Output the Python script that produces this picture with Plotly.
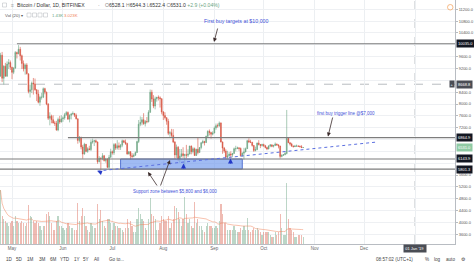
import plotly.graph_objects as go
import pandas as pd

# ---------------- data (daily BTC/USD, Bitfinex) ----------------
dates = pd.date_range("2018-04-24", "2018-10-25", freq="D")

opens = [
    8940, 9650, 8870, 9280, 8940, 9350, 9400,
    9240, 9070, 9220, 9740, 9700, 9850, 9630, 9370, 9190, 9320, 9020, 8420, 8480, 8710, 8680, 8480,
    8340, 8060, 8230, 8230, 8520, 8400, 8000, 7520, 7590, 7470, 7360, 7350, 7120, 7480, 7390,
    7500, 7530, 7640, 7710, 7490, 7620, 7660, 7680, 7620, 7500, 6770, 6880, 6550, 6310, 6640,
    6400, 6490, 6460, 6710, 6740, 6760, 6720, 6050, 6170, 6150, 6250, 6090, 6140, 5860, 6200,
    6390, 6350, 6630, 6510, 6590, 6540, 6610, 6760, 6710, 6670, 6310, 6390, 6250, 6230, 6270,
    6360, 6730, 7320, 7380, 7470, 7330, 7410, 7400, 7720, 8400, 8170, 7930, 8180, 8230, 8210, 8180,
    7730, 7610, 7540, 7420, 7010, 7030, 6940, 6720, 6280, 6540, 6150, 6240, 6320, 6260, 6290,
    6270, 6310, 6580, 6390, 6490, 6260, 6470, 6360, 6530, 6690, 6730, 6700, 6910, 7080, 7040, 6980,
    7020, 7190, 7270, 7260, 7360, 6720, 6510, 6410, 6200, 6250, 6310, 6280, 6330, 6490, 6490,
    6520, 6500, 6250, 6340, 6380, 6490, 6760, 6720, 6710, 6600, 6430, 6460, 6680, 6630, 6600,
    6630, 6590, 6530, 6480, 6580, 6620, 6570, 6600, 6650, 6620, 6580, 6230, 6270, 6290, 6330,
    6840, 6690, 6650, 6580, 6560, 6580, 6580, 6570, 6560, 6528.1,
]
highs = [
    9730, 9760, 9310, 9390, 9440, 9520, 9470,
    9260, 9240, 9790, 9770, 9990, 9930, 9670, 9470, 9370, 9380, 9030, 8650, 8760, 8880, 8860,
    8500, 8480, 8280, 8380, 8560, 8550, 8420, 8030, 7720, 7640, 7620, 7430, 7430, 7540, 7600, 7620,
    7580, 7700, 7760, 7750, 7650, 7700, 7750, 7700, 7680, 7510, 6920, 6890, 6620, 6690,
    6650, 6540, 6590, 6800, 6830, 6790, 6800, 6730, 6240, 6200, 6340, 6280, 6180, 6170, 6280, 6490,
    6430, 6680, 6680, 6780, 6700, 6650, 6800, 6790, 6800, 6690, 6400, 6400, 6340, 6330,
    6400, 6760, 7460, 7580, 7560, 7690, 7460, 7560, 7790, 8490, 8480, 8300, 8250, 8240, 8290, 8260, 8190,
    7760, 7720, 7550, 7500, 7090, 7160, 7150, 6740, 6630, 6580, 6480, 6480, 6540, 6320,
    6620, 6470, 6590, 6600, 6540, 6530, 6490, 6880, 6540, 6720, 6790, 6760, 6930, 7110, 7140, 7060, 7080,
    7240, 7340, 7340, 7410, 7380, 6730, 6550, 6470, 6420, 6380, 6400, 6350, 6530, 6590,
    6560, 6530, 6530, 6370, 6520, 6530, 6790, 6840, 6790, 6720, 6610, 6560, 6700, 6780, 6650, 6660,
    6660, 6620, 6550, 6610, 6640, 6630, 6620, 6700, 6660, 6630, 6590, 6300, 6310, 6380,
    7800, 6880, 6720, 6690, 6600, 6620, 6630, 6610, 6600, 6610, 6544.3,
]
lows = [
    8930, 8740, 8660, 8930, 8920, 9180, 9150,
    8840, 9010, 9180, 9540, 9680, 9470, 9180, 9100, 8990, 9000, 8360, 8220, 8370, 8320, 8450,
    8100, 8020, 7940, 8150, 8200, 8330, 7960, 7460, 7280, 7350, 7340, 7260, 7100, 7080, 7330, 7380,
    7400, 7470, 7600, 7460, 7380, 7480, 7640, 7560, 7480, 6660, 6700, 6470, 6150, 6290,
    6370, 6350, 6440, 6410, 6660, 6580, 6680, 5980, 6030, 5760, 6100, 6060, 6020, 5840, 5820, 6190,
    6290, 6280, 6450, 6460, 6450, 6450, 6540, 6680, 6620, 6290, 6300, 6110, 6160, 6200,
    6250, 6350, 6680, 7250, 7280, 7300, 7240, 7350, 7380, 7700, 8070, 7860, 7820, 8080, 8120, 7880, 7650,
    7460, 7480, 7300, 6950, 6890, 6860, 6680, 6150, 6180, 6080, 6020, 6200, 6180, 5880,
    6160, 6210, 6300, 6300, 6330, 6250, 6250, 6300, 6360, 6470, 6660, 6600, 6680, 6870, 6940, 6830, 6940,
    7010, 7130, 7200, 7230, 6700, 6320, 6350, 6150, 6150, 6230, 6180, 6200, 6320, 6400,
    6480, 6420, 6230, 6230, 6120, 6370, 6480, 6680, 6680, 6560, 6380, 6400, 6440, 6600, 6510, 6560,
    6550, 6500, 6440, 6470, 6540, 6540, 6530, 6580, 6590, 6500, 6160, 6200, 6250, 6270,
    6300, 6690, 6600, 6550, 6530, 6550, 6560, 6550, 6530, 6540, 6522.4,
]
closes = [
    9650, 8870, 9280, 8940, 9350, 9400, 9240,
    9070, 9220, 9740, 9700, 9850, 9630, 9370, 9190, 9320, 9020, 8420, 8480, 8710, 8680, 8480,
    8340, 8060, 8230, 8230, 8520, 8400, 8000, 7520, 7590, 7470, 7360, 7350, 7120, 7480, 7390, 7500,
    7530, 7640, 7710, 7490, 7620, 7660, 7680, 7620, 7500, 6770, 6880, 6550, 6310, 6640,
    6400, 6490, 6460, 6710, 6740, 6760, 6720, 6050, 6170, 6150, 6250, 6090, 6140, 5860, 6200, 6390,
    6350, 6630, 6510, 6590, 6540, 6610, 6760, 6710, 6670, 6310, 6390, 6250, 6230, 6270,
    6360, 6730, 7320, 7380, 7470, 7330, 7410, 7400, 7720, 8400, 8170, 7930, 8180, 8230, 8210, 8180, 7730,
    7610, 7540, 7420, 7010, 7030, 6940, 6720, 6280, 6540, 6150, 6240, 6320, 6260, 6290,
    6270, 6310, 6580, 6390, 6490, 6260, 6470, 6360, 6530, 6690, 6730, 6700, 6910, 7080, 7040, 6980, 7020,
    7190, 7270, 7260, 7360, 6720, 6510, 6410, 6200, 6250, 6310, 6280, 6330, 6490, 6490,
    6520, 6500, 6250, 6340, 6380, 6490, 6760, 6720, 6710, 6600, 6430, 6460, 6680, 6630, 6600, 6630,
    6590, 6530, 6480, 6580, 6620, 6570, 6600, 6650, 6620, 6580, 6230, 6270, 6290, 6330,
    6840, 6690, 6650, 6580, 6560, 6580, 6580, 6570, 6560, 6528.1, 6531.0,
]
volumes_k = [
    11.7, 6.0, 5.5, 5.0, 4.5, 4.0, 4.5,
    5.0, 4.0, 6.0, 5.0, 4.5, 4.5, 5.0, 4.5, 4.0, 4.5, 8.5, 6.0, 5.9, 5.0, 4.5, 5.0,
    4.5, 4.0, 3.0, 4.0, 4.0, 6.5, 7.0, 6.0, 4.5, 3.0, 3.0, 5.0, 6.0, 4.0, 4.0,
    3.5, 3.0, 3.5, 4.5, 4.0, 3.5, 3.5, 3.0, 3.0, 8.9, 5.0, 6.0, 7.8, 6.0, 4.0,
    3.0, 2.5, 4.5, 4.0, 3.5, 3.5, 8.7, 5.5, 7.4, 5.0, 4.0, 3.5, 5.5, 5.5, 4.5,
    3.0, 4.5, 4.0, 4.0, 3.5, 3.5, 3.0, 2.5, 3.5, 5.5, 3.5, 5.0, 4.0, 2.5, 2.5,
    5.5, 7.8, 6.5, 5.5, 5.0, 3.5, 3.0, 5.5, 10.0, 6.5, 6.0, 5.5, 3.0, 3.0, 4.5, 6.0,
    5.5, 5.0, 5.0, 6.0, 3.5, 4.5, 5.5, 8.3, 7.8, 7.0, 5.5, 4.0, 5.5, 10.2, 6.5,
    4.5, 5.5, 4.0, 3.5, 9.1, 4.5, 5.5, 4.0, 4.0, 3.0, 2.5, 4.0, 4.5, 4.0, 4.0, 3.5,
    3.5, 4.0, 3.5, 5.0, 8.7, 6.5, 4.5, 4.5, 3.0, 3.0, 3.0, 3.0, 4.0, 3.0, 2.5,
    2.5, 3.5, 3.0, 4.0, 3.0, 5.7, 3.0, 2.5, 3.0, 3.5, 3.0, 3.5, 3.0, 2.5, 2.0,
    2.5, 2.5, 2.5, 2.5, 2.0, 1.5, 1.5, 2.5, 2.0, 2.5, 6.5, 3.5, 2.0, 2.0,
    13.3, 5.5, 3.5, 3.0, 2.5, 1.5, 1.5, 2.0, 2.0, 2.0, 1.43,
]

# axis ticks shown (ticks hidden behind the price labels are left out, as in the picture)
price_ticks = [3600, 4000, 4400, 4800, 5200, 5600, 7200, 7600, 8000, 8400, 9200, 9600, 10400, 10800, 11200]
month_ticks = ["2018-05-01", "2018-06-01", "2018-07-01", "2018-08-01", "2018-09-01", "2018-10-01",
               "2018-11-01", "2018-12-01", "2019-01-01"]
month_labels = ["May", "Jun", "Jul", "Aug", "Sep", "Oct", "Nov", "Dec", ""]

# drawn levels / zones (price values shown on the axis)
level_values = [10035.0, 6864.9, 6143.9, 5801.3]
level_starts = ["2018-05-04", "2018-06-04", "2018-04-20", "2018-04-20"]
zone_dates = ["2018-07-06", "2018-09-18"]
zone_prices = [5801.3, 6143.9]
trend_dates = ["2018-06-22", "2018-12-09"]
trend_prices = [5737, 6717]
cross_date, cross_price = "2019-01-01", 8668.8
last_price = 6531.0

# ---------------- geometry helpers ----------------
W, H = 474, 266
ML, MR, MT, MB = 0, 19, 0, 22
PW, PH = W - ML - MR, H - MT - MB


def px(x):
    return (x - ML) / PW


def py(y):
    return 1 - (y - MT) / PH


X_RANGE = ["2018-04-23 17:00", "2019-01-25 07:00"]
Y_RANGE = [3271, 11514]

UP, DN = "#6ba583", "#d75442"
UP_V, DN_V = "rgba(107,165,131,0.45)", "rgba(215,84,66,0.40)"
BLUE_TXT = "#3f51d8"
FONT = "Liberation Sans, Arial, sans-serif"
GRID = "#eef0f3"

vol_colors = [UP_V if c >= o else DN_V for o, c in zip(opens, closes)]
vol_ma = pd.Series(volumes_k).rolling(20, min_periods=1).mean()

fig = go.Figure()
fig.add_trace(go.Bar(x=dates, y=volumes_k, marker_color=vol_colors, marker_line_width=0,
                     width=0.72 * 86400000, yaxis="y", hoverinfo="skip", showlegend=False))
fig.add_trace(go.Scatter(x=dates, y=vol_ma, mode="lines", line=dict(color="rgba(240,130,90,0.7)", width=0.7),
                         yaxis="y", hoverinfo="skip", showlegend=False))
fig.add_trace(go.Candlestick(
    x=dates, open=opens, high=highs, low=lows, close=closes, yaxis="y2",
    increasing=dict(line=dict(color=UP, width=0.6), fillcolor=UP),
    decreasing=dict(line=dict(color=DN, width=0.6), fillcolor=DN),
    whiskerwidth=0, hoverinfo="skip", showlegend=False))

shapes = []
# crosshair
shapes.append(dict(type="line", xref="x", yref="paper", x0=cross_date, x1=cross_date, y0=0, y1=1,
                   line=dict(color="#9aa0a6", width=0.7, dash="dash"), layer="below"))
shapes.append(dict(type="line", xref="paper", yref="y2", x0=0, x1=1, y0=cross_price, y1=cross_price,
                   line=dict(color="#9aa0a6", width=0.7, dash="dash"), layer="below"))
# support zone rectangle
shapes.append(dict(type="rect", xref="x", yref="y2", x0=zone_dates[0], x1=zone_dates[1],
                   y0=zone_prices[0], y1=zone_prices[1], fillcolor="rgba(115,155,238,0.68)",
                   line=dict(color="#3a5cc8", width=0.8)))
# horizontal levels
for v, s in zip(level_values, level_starts):
    shapes.append(dict(type="line", xref="x", yref="y2", x0=s, x1=X_RANGE[1], y0=v, y1=v,
                       line=dict(color="#7d7d7d", width=1.1)))
# dotted trend line
shapes.append(dict(type="line", xref="x", yref="y2", x0=trend_dates[0], x1=trend_dates[1],
                   y0=trend_prices[0], y1=trend_prices[1], line=dict(color="#5b6fe0", width=1.0, dash="dot")))
# orange alert icon
shapes.append(dict(type="circle", xref="paper", yref="paper", x0=px(447.5), x1=px(453), y0=py(4.5), y1=py(10),
                   line=dict(color="#f4a868", width=0.8)))
# small header icons
for x0 in [27, 32.5, 38, 43.5]:
    shapes.append(dict(type="rect", xref="paper", yref="paper", x0=px(x0), x1=px(x0 + 4), y0=py(13), y1=py(17),
                       line=dict(color="#b0b4ba", width=0.5)))
shapes.append(dict(type="rect", xref="paper", yref="paper", x0=px(2.5), x1=px(6.5), y0=py(3), y1=py(7),
                   line=dict(color="#b0b4ba", width=0.5)))

ann = []


def text(x, y, t, size=5, color="#333", anchor="left", bg=None, yref="paper", xref="paper", pad=0):
    d = dict(x=x, y=y, xref=xref, yref=yref, text=t, showarrow=False, xanchor=anchor, yanchor="middle",
             font=dict(size=size, color=color, family=FONT))
    if bg:
        d.update(bgcolor=bg, borderpad=pad)
    ann.append(d)


# header
text(px(9), py(5), "\u2261", size=5, color="#9a9ea4")
text(px(15), py(5), "Bitcoin / Dollar, 1D, BITFINEX", size=5.1, color="#333")
text(px(96), py(5), "\u00b7", size=5, color="#666")
g = '<span style="color:#888">'
text(px(103), py(5), f"{g}O</span>6528.1 {g}H</span>6544.3 {g}L</span>6522.4 {g}C</span>6531.0 "
                     f"<span style='color:{UP}'>+2.9 (+0.04%)</span>", size=5.1, color="#333")
text(px(3), py(15), "Vol (20) \u25be", size=4.3, color="#555")
text(px(50), py(15), "1.43K", size=4.3, color=UP)
text(px(62), py(15), "3.023K", size=4.3, color="#f07f5a")

# price axis labels
for v, bg, fc in [(10035.0, "#131722", "white"), (cross_price, "#4a4d55", "white"), (6864.9, "#131722", "white"),
                  (last_price, "#8fcaa4", "white"), (6143.9, "#131722", "white"), (5801.3, "#131722", "white")]:
    text(px(456), v, f"{v:.1f}", size=4, color=fc, bg=bg, yref="y2", pad=1)
text(px(448.5), cross_price, "+", size=4, color="white", bg="#4a4d55", yref="y2", pad=0.5)

# time axis crosshair label
ann.append(dict(x=cross_date, y=py(248.5), xref="x", yref="paper", text="01 Jan '19", showarrow=False,
                xanchor="center", yanchor="middle", font=dict(size=4, color="white", family=FONT),
                bgcolor="#4a4d55", borderpad=1.2))

# toolbar
for x, t in [(9, "1D"), (19, "5D"), (31, "1M"), (42, "3M"), (53, "6M"), (65, "YTD"), (77, "1Y"), (86, "5Y"),
             (96, "All"), (117, "Go to...")]:
    text(px(x), py(259), t, size=4.6, color="#444", anchor="center")
text(px(394.5), py(259), "08:57:02 (UTC+1)", size=4.6, color="#444", anchor="center")
for x, t in [(427, "%"), (437, "log"), (450, "auto"), (463.5, "\u2699")]:
    text(px(x), py(259), t, size=4.6, color="#444", anchor="center")

# drawing annotations
text(px(236), py(21), "First buy targets at $10,000", size=5.3, color=BLUE_TXT, anchor="center")
text(px(346), py(113), "first buy trigger line @$7,000", size=4.5, color=BLUE_TXT, anchor="center")
text(px(175), py(191.5), "Support zone between $5,800 and $6,000", size=4.5, color=BLUE_TXT, anchor="center")


def arrow(x0, y0, x1, y1, color="#3b2b2b", width=0.8, head=2, size=1.0):
    # tail at (x0, y0), tip at (x1, y1) in pixel coordinates
    ann.append(dict(x=px(x1), y=py(y1), xref="paper", yref="paper", ax=x0 - x1, ay=y0 - y1,
                    axref="pixel", ayref="pixel", text="", showarrow=True, arrowhead=head,
                    arrowsize=size, arrowwidth=width, arrowcolor=color))


arrow(218, 27, 214, 42)
arrow(333, 116, 328, 136.5)
arrow(158, 187, 148, 172)
arrow(160, 187, 170, 160)
arrow(183.5, 170, 183.5, 163.5, color="#2338c8", width=1.1, head=2, size=0.9)
arrow(230.5, 165, 230.5, 158.5, color="#2338c8", width=1.1, head=2, size=0.9)
arrow(101, 172.5, 97.5, 171.2, color="#2338c8", width=1.0, head=2, size=0.9)

fig.update_layout(
    width=W, height=H, margin=dict(l=ML, r=MR, t=MT, b=MB),
    paper_bgcolor="white", plot_bgcolor="white",
    font=dict(family=FONT),
    shapes=shapes, annotations=ann, showlegend=False, bargap=0,
    xaxis=dict(type="date", range=X_RANGE, rangeslider=dict(visible=False), showgrid=True,
               gridcolor="#eceff2", gridwidth=0.8, tickmode="array", tickvals=month_ticks,
               ticktext=month_labels, tickfont=dict(size=4.5, color="#666"), ticks="", showline=True,
               linecolor="#b8bcc2", linewidth=0.8, zeroline=False, fixedrange=True),
    yaxis=dict(range=[0, 53], visible=False, fixedrange=True),
    yaxis2=dict(overlaying="y", side="right", range=Y_RANGE, tickmode="array", tickvals=price_ticks,
                tickformat=".1f", tickfont=dict(size=4, color="#555"), showgrid=True, gridcolor=GRID,
                gridwidth=0.8, showline=True, linecolor="#b8bcc2", linewidth=0.8, ticks="outside", ticklen=2,
                tickcolor="#b8bcc2", zeroline=False, fixedrange=True,
                minor=dict(tickmode="linear", tick0=0, dtick=400, showgrid=True, gridcolor=GRID,
                           gridwidth=0.8, ticks="")),
)

fig.write_html("out.html")
